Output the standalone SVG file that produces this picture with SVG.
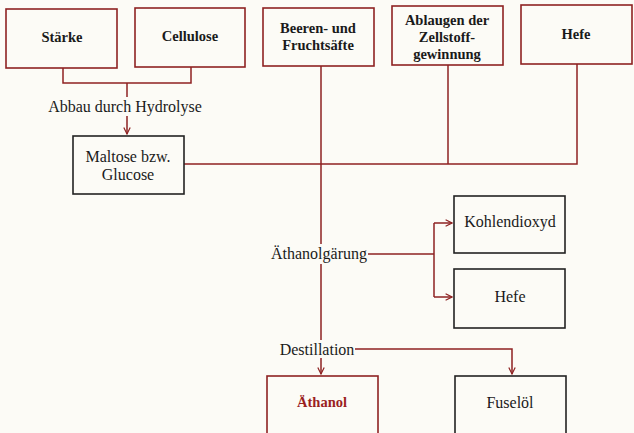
<svg xmlns="http://www.w3.org/2000/svg" width="634" height="433" viewBox="0 0 634 433">
<style>
.bg{fill:#fcfbf6}
.rb{fill:none;stroke:#8e2222;stroke-width:1.6}
.kb{fill:none;stroke:#222;stroke-width:1.6}
.t{font-family:"Liberation Serif","DejaVu Serif",serif;font-size:16px;fill:#1a1a1a;text-anchor:middle}
.b{font-family:"Liberation Serif","DejaVu Serif",serif;font-size:14.5px;font-weight:bold;fill:#1a1a1a;text-anchor:middle}
.red{fill:#9a1f1f}
.c{fill:none;stroke:#8e2222;stroke-width:1.5}
</style>
<defs>
<marker id="ah" viewBox="0 0 10 10" refX="9" refY="5" markerWidth="8" markerHeight="8" markerUnits="userSpaceOnUse" orient="auto">
<path d="M1,1 L9,5 L1,9" fill="none" stroke="#8e2222" stroke-width="1.5"/>
</marker>
</defs>
<rect class="bg" x="0" y="0" width="634" height="433"/>
<g id="connectors">
<path class="c" d="M63,68 V83 H191 V67"/>
<path class="c" d="M127,83 V97"/>
<path class="c" d="M127,116 V134" marker-end="url(#ah)"/>
<path class="c" d="M184,164 H577 V64"/>
<path class="c" d="M448,65 V164"/>
<path class="c" d="M321,66 V244"/>
<path class="c" d="M321,264 V340"/>
<path class="c" d="M368,254 H434"/>
<path class="c" d="M434,223 V297"/>
<path class="c" d="M434,223 H452" marker-end="url(#ah)"/>
<path class="c" d="M434,297 H452" marker-end="url(#ah)"/>
<path class="c" d="M321,358 V374" marker-end="url(#ah)"/>
<path class="c" d="M355,349 H512 V374" marker-end="url(#ah)"/>
</g>
<g id="staerke"><rect class="rb" x="6" y="9" width="111" height="59"/><text class="b" x="62" y="42">Stärke</text></g>
<g id="cellulose"><rect class="rb" x="135" y="8" width="110" height="59"/><text class="b" x="190" y="41">Cellulose</text></g>
<g id="beeren"><rect class="rb" x="263" y="8" width="111" height="58"/><text class="b" x="318" y="33">Beeren- und</text><text class="b" x="318" y="50">Fruchtsäfte</text></g>
<g id="ablaugen"><rect class="rb" x="392" y="6" width="111" height="59"/><text class="b" x="447" y="25">Ablaugen der</text><text class="b" x="447" y="42">Zellstoff-</text><text class="b" x="447" y="59">gewinnung</text></g>
<g id="hefe-top"><rect class="rb" x="521" y="5" width="111" height="59"/><text class="b" x="576" y="39">Hefe</text></g>
<g id="hydrolyse"><text class="t" x="125" y="112">Abbau durch Hydrolyse</text></g>
<g id="maltose"><rect class="kb" x="73" y="136" width="111" height="58"/><text class="t" x="128" y="162">Maltose bzw.</text><text class="t" x="128" y="180">Glucose</text></g>
<g id="gaerung"><text class="t" x="319" y="259">Äthanolgärung</text></g>
<g id="kohlendioxyd"><rect class="kb" x="454" y="196" width="111" height="57"/><text class="t" x="510" y="227">Kohlendioxyd</text></g>
<g id="hefe2"><rect class="kb" x="454" y="269" width="111" height="59"/><text class="t" x="510" y="302">Hefe</text></g>
<g id="destillation"><text class="t" x="317" y="355">Destillation</text></g>
<g id="aethanol"><rect class="rb" x="267" y="376" width="111" height="62"/><text class="b red" x="322" y="407">Äthanol</text></g>
<g id="fuseloel"><rect class="kb" x="455" y="376" width="111" height="62"/><text class="t" x="510" y="408">Fuselöl</text></g>
</svg>
